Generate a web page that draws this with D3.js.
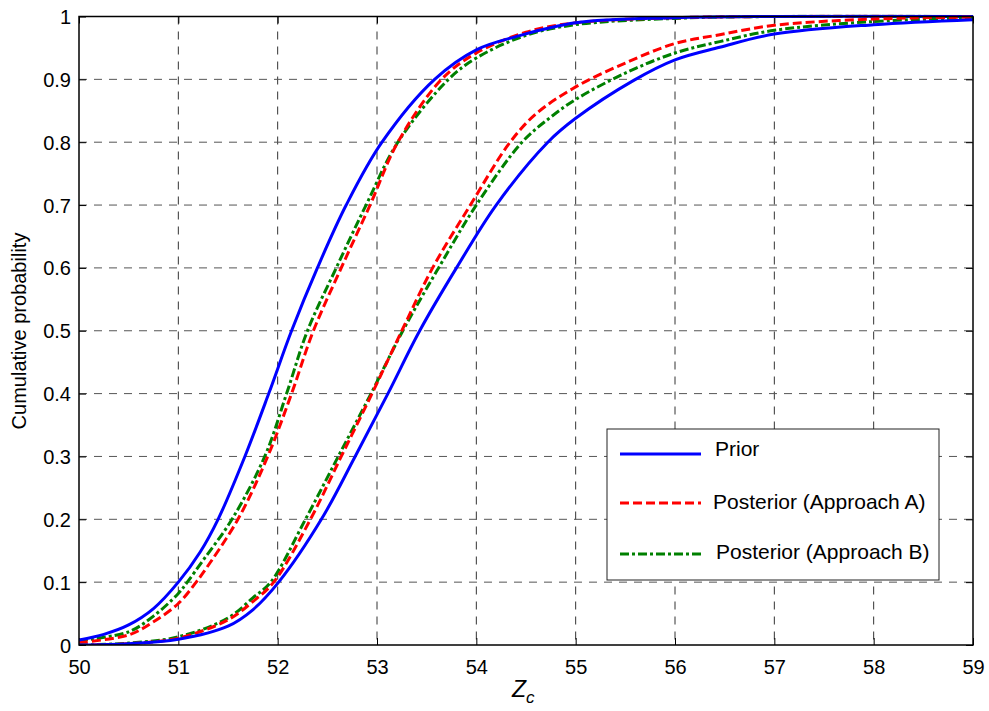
<!DOCTYPE html>
<html><head><meta charset="utf-8">
<script src="https://cdn.jsdelivr.net/npm/d3@7"></script>
<style>body{margin:0;background:#fff;}svg{display:block;font-family:Arial,"Liberation Sans",Helvetica,sans-serif;}</style>
</head><body>
<svg id="chart" width="989" height="711"></svg>
<script>
// ---- data ----
const xTicks = [50,51,52,53,54,55,56,57,58,59];
const yTicks = [0,0.1,0.2,0.3,0.4,0.5,0.6,0.7,0.8,0.9,1];
const yTickLabels = ["0","0.1","0.2","0.3","0.4","0.5","0.6","0.7","0.8","0.9","1"];
const legendLabels = ["Prior","Posterior (Approach A)","Posterior (Approach B)"];

// Left group of curves
const priorLeftX = [50.0,50.25,50.5,50.75,51.0,51.22,51.40,51.67,51.91,52.14,52.40,52.69,53.05,53.58,54.0,54.4,55.0,56.0,57.0,59.0];
const priorLeftP = [0.008,0.017,0.032,0.058,0.10,0.148,0.20,0.30,0.40,0.50,0.60,0.70,0.80,0.90,0.947,0.968,0.99,0.998,1.0,1.0];
const postALeftX = [50.0,50.5,50.75,51.0,51.18,51.25,51.60,51.90,52.14,52.36,52.64,52.93,53.21,53.65,54.0,54.5,55.0,56.0,57.0,59.0];
const postALeftP = [0.004,0.016,0.037,0.066,0.10,0.115,0.20,0.30,0.40,0.50,0.60,0.70,0.80,0.90,0.942,0.975,0.99,0.998,1.0,1.0];
const postBLeftX = [50.0,50.5,50.75,51.0,51.09,51.25,51.54,51.87,52.09,52.30,52.59,52.89,53.21,53.72,54.0,54.5,55.0,56.0,57.0,59.0];
const postBLeftP = [0.007,0.021,0.046,0.082,0.10,0.135,0.20,0.30,0.40,0.50,0.60,0.70,0.80,0.90,0.934,0.97,0.987,0.997,1.0,1.0];

// Right group of curves
const priorRightX = [50.0,50.5,51.0,51.5,51.75,52.01,52.44,52.78,53.11,53.43,53.80,54.20,54.72,55.0,55.58,56.0,56.45,57.0,58.0,59.0];
const priorRightP = [0.0,0.002,0.009,0.03,0.056,0.10,0.20,0.30,0.40,0.50,0.60,0.70,0.80,0.838,0.898,0.931,0.951,0.972,0.987,0.995];
const postARightX = [50.0,50.5,51.0,51.5,51.75,51.96,52.33,52.64,52.95,53.25,53.56,53.94,54.34,54.6,55.0,55.5,56.0,56.45,57.0,58.0,59.0];
const postARightP = [0.0,0.002,0.011,0.04,0.069,0.10,0.20,0.30,0.40,0.50,0.60,0.70,0.80,0.845,0.888,0.926,0.957,0.971,0.986,0.996,0.999];
const postBRightX = [50.0,50.5,51.0,51.5,51.75,51.93,52.28,52.61,52.94,53.26,53.62,54.00,54.46,54.75,55.0,55.5,56.0,56.45,57.0,58.0,59.0];
const postBRightP = [0.0,0.003,0.013,0.043,0.075,0.10,0.20,0.30,0.40,0.50,0.60,0.70,0.80,0.84,0.868,0.91,0.942,0.96,0.978,0.992,0.998];

// ---- layout ----
const svg = d3.select("#chart");
const L = 79, R = 973, T = 16.5, B = 645;
const x = d3.scaleLinear().domain([50,59]).range([L,R]);
const y = d3.scaleLinear().domain([0,1]).range([B,T]);

// grid
const grid = svg.append("g");
grid.selectAll("line.v").data(xTicks.slice(1,-1)).enter().append("line")
  .attr("x1",d=>x(d)).attr("x2",d=>x(d)).attr("y1",T).attr("y2",B)
  .attr("stroke","#333").attr("stroke-width",1).attr("stroke-dasharray","8,7");
grid.selectAll("line.h").data(yTicks.slice(1,-1)).enter().append("line")
  .attr("x1",L).attr("x2",R).attr("y1",d=>y(d)).attr("y2",d=>y(d))
  .attr("stroke","#555").attr("stroke-width",1).attr("stroke-dasharray","8,7");

// axes (MATLAB style ticks inside)
const tickLen = 7;
const xAxisB = svg.append("g").attr("transform",`translate(0,${B})`)
  .call(d3.axisBottom(x).tickValues(xTicks).tickSize(-tickLen).tickPadding(15).tickFormat(d3.format("d")));
const xAxisT = svg.append("g").attr("transform",`translate(0,${T})`)
  .call(d3.axisTop(x).tickValues(xTicks).tickSize(-tickLen).tickFormat(""));
const yAxisL = svg.append("g").attr("transform",`translate(${L},0)`)
  .call(d3.axisLeft(y).tickValues(yTicks).tickSize(-tickLen).tickPadding(8).tickFormat((d,i)=>yTickLabels[i]));
const yAxisR = svg.append("g").attr("transform",`translate(${R},0)`)
  .call(d3.axisRight(y).tickValues(yTicks).tickSize(-tickLen).tickFormat(""));
[xAxisB,xAxisT,yAxisL,yAxisR].forEach(a=>{
  a.select(".domain").remove();
  a.selectAll(".tick line").attr("stroke","#000").attr("stroke-width",1);
  a.selectAll("text").attr("fill","#000").style("font-size","20px").style("font-family","Arial, 'Liberation Sans', sans-serif");
});
yAxisL.selectAll(".tick text").attr("dy","0.35em");

// curves
const line = d3.line().x(d=>x(d[0])).y(d=>y(d[1])).curve(d3.curveCatmullRom.alpha(0.5));
const zip = (a,b)=>a.map((v,i)=>[v,b[i]]);
const styles = {
  prior:{color:"#0000ff",dash:null},
  A:{color:"#ff0000",dash:"9,4"},
  B:{color:"#008000",dash:"9,3,3,3"}
};
svg.append("clipPath").attr("id","clip").append("rect")
  .attr("x",L).attr("y",T-2).attr("width",R-L).attr("height",B-T+2);
const curves = [
  [postBLeftX,postBLeftP,"B"],[postALeftX,postALeftP,"A"],[priorLeftX,priorLeftP,"prior"],
  [postBRightX,postBRightP,"B"],[postARightX,postARightP,"A"],[priorRightX,priorRightP,"prior"]
];
const cg = svg.append("g").attr("clip-path","url(#clip)");
curves.forEach(([xs,ps,k])=>{
  cg.append("path").datum(zip(xs,ps)).attr("d",line)
    .attr("fill","none").attr("stroke",styles[k].color).attr("stroke-width",3)
    .attr("stroke-dasharray",styles[k].dash);
});

// box
svg.append("rect").attr("x",L).attr("y",T).attr("width",R-L).attr("height",B-T)
  .attr("fill","none").attr("stroke","#000").attr("stroke-width",1.5);

// axis labels
svg.append("text").attr("transform",`translate(26,331) rotate(-90)`)
  .attr("text-anchor","middle").style("font-size","20px").attr("fill","#000")
  .text("Cumulative probability");
const xl = svg.append("text").attr("x",512).attr("y",697).style("font-size","23px")
  .style("font-style","italic").attr("fill","#000");
xl.append("tspan").text("Z");
xl.append("tspan").attr("dy",6).style("font-size","17px").text("c");

// legend
const lg = svg.append("g");
lg.append("rect").attr("x",607).attr("y",429).attr("width",332).attr("height",151)
  .attr("fill","#fff").attr("stroke","#222").attr("stroke-width",1);
const legY = [454,503,554];
const legTY = [449,502,552];
const legTX = [715,713,716];
const keys = ["prior","A","B"];
keys.forEach((k,i)=>{
  lg.append("line").attr("x1",620).attr("x2",701).attr("y1",legY[i]).attr("y2",legY[i])
    .attr("stroke",styles[k].color).attr("stroke-width",3).attr("stroke-dasharray",styles[k].dash);
  lg.append("text").attr("x",legTX[i]).attr("y",legTY[i]).attr("dy","0.35em")
    .style("font-size","21px").attr("fill","#000").text(legendLabels[i]);
});
</script>
</body></html>
